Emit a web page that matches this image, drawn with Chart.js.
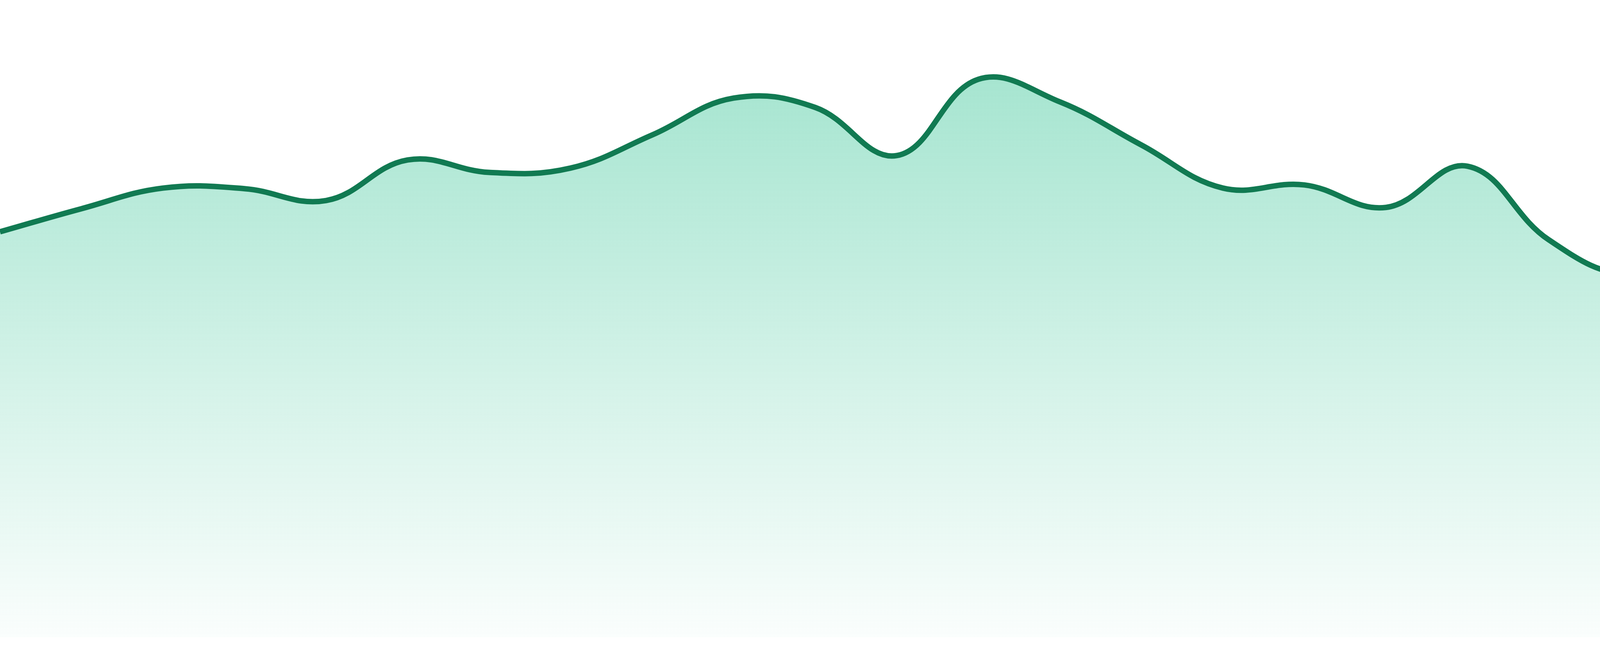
<!DOCTYPE html>
<html>
<head>
<meta charset="utf-8">
<script src="https://cdn.jsdelivr.net/npm/chart.js@4"></script>
<style>
  html, body { margin: 0; padding: 0; background: #fff; }
  #wrap { width: 4800px; height: 1680px; position: relative; }
</style>
</head>
<body>
<div id="wrap"><canvas id="chart"></canvas></div>
<script>
// one point per period, axes are hidden in the original
const labels = ['01', '02', '03', '04', '05', '06', '07', '08', '09', '10', '11', '12',
                '13', '14', '15', '16', '17', '18', '19', '20', '21', '22', '23', '24'];

const values = [64.9, 68.6, 71.9, 71.8, 69.9, 76.4, 74.4, 75.1, 80.4, 86.3, 84.8, 77.1,
                89.3, 85.7, 78.8, 71.9, 72.4, 68.8, 75.4, 63.6, 58.1, 63.2, 57.5, 53.2];

const yMin = 0;
const yMax = 102;

const lineColor = '#117a52';

function areaFill(context) {
    const chart = context.chart;
    const area = chart.chartArea;
    if (!area) return 'rgba(16, 185, 129, 0.2)';
    const g = chart.ctx.createLinearGradient(0, area.top, 0, area.bottom);
    g.addColorStop(0, 'rgba(16, 185, 129, 0.42)');
    g.addColorStop(1, 'rgba(16, 185, 129, 0.02)');
    return g;
}

new Chart(document.getElementById('chart').getContext('2d'), {
    type: 'line',
    data: {
        labels: labels,
        datasets: [{
            data: values,
            borderColor: lineColor,
            borderWidth: 14,
            backgroundColor: areaFill,
            fill: 'origin',
            tension: 0.4,
            pointRadius: 0,
            pointHoverRadius: 0
        }]
    },
    options: {
        responsive: true,
        maintainAspectRatio: false,
        devicePixelRatio: 1,
        animation: false,
        layout: { padding: { top: 0, right: 0, bottom: 48, left: 0 } },
        plugins: {
            legend: { display: false },
            tooltip: { enabled: false }
        },
        scales: {
            x: { display: false, offset: false },
            y: { display: false, min: yMin, max: yMax }
        }
    }
});
</script>
</body>
</html>
